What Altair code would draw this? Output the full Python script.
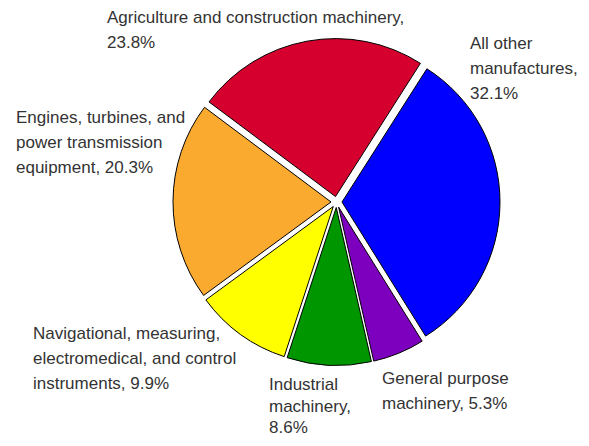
import math
import altair as alt
import pandas as pd

# ---- data -------------------------------------------------------------
categories = [
    "All other manufactures",
    "General purpose machinery",
    "Industrial machinery",
    "Navigational, measuring, electromedical, and control instruments",
    "Engines, turbines, and power transmission equipment",
    "Agriculture and construction machinery",
]
shares = [32.1, 5.3, 8.6, 9.9, 20.3, 23.8]
label_text = [
    "All other\nmanufactures,\n32.1%",
    "General purpose\nmachinery, 5.3%",
    "Industrial\nmachinery,\n8.6%",
    "Navigational, measuring,\nelectromedical, and control\ninstruments, 9.9%",
    "Engines, turbines, and\npower transmission\nequipment, 20.3%",
    "Agriculture and construction machinery,\n23.8%",
]

# ---- styling / layout (kept apart from the data) ------------------------
colors = ["#0000FF", "#7D00BF", "#009600", "#FFFF00", "#FBAA30", "#D6002F"]
label_anchor = [  # (x, first-line baseline, line height) in pixels
    (462, 41, 25),
    (374, 376, 25),
    (261, 382, 21.5),
    (25, 331, 25),
    (8, 115, 25),
    (99, 15, 25),
]
W, H = 573, 430
CX, CY = 328.5, 194.0
R = 158
EXPLODE = 5.5
START = math.radians(32.5)

df = pd.DataFrame({
    "category": categories,
    "share": shares,
    "order": list(range(len(categories))),
})
lab = pd.DataFrame({
    "category": categories,
    "text": label_text,
    "lx": [p[0] for p in label_anchor],
    "ly": [p[1] for p in label_anchor],
    "lh": [p[2] for p in label_anchor],
})

pie = (
    alt.Chart(df)
    .transform_joinaggregate(total="sum(share)")
    .transform_window(cum="sum(share)", sort=[alt.SortField("order")], frame=[None, 0])
    .transform_calculate(
        mid=f"{START} + 2*PI*(datum.cum - datum.share/2)/datum.total",
    )
    .transform_calculate(
        cx=f"{CX} + {EXPLODE}*sin(datum.mid)",
        cy=f"{CY} - {EXPLODE}*cos(datum.mid)",
    )
    .mark_arc(outerRadius=R, stroke="black", strokeWidth=1)
    .encode(
        theta=alt.Theta("share:Q", stack=True,
                        scale=alt.Scale(range=[START, START + 2 * math.pi])),
        order=alt.Order("order:Q"),
        color=alt.Color("category:N",
                        scale=alt.Scale(domain=categories, range=colors),
                        legend=None),
        x=alt.X("cx:Q", scale=None),
        y=alt.Y("cy:Q", scale=None),
    )
)

def label_layer(sub):
    return (
        alt.Chart(sub)
        .mark_text(
            align="left",
            baseline="alphabetic",
            lineBreak="\n",
            lineHeight=float(sub["lh"].iloc[0]),
            font="Liberation Sans",
            fontSize=17,
            color="#333333",
        )
        .encode(
            x=alt.X("lx:Q", scale=None),
            y=alt.Y("ly:Q", scale=None),
            text="text:N",
        )
    )

labels_normal = label_layer(lab[lab["lh"] == 25])
labels_tight = label_layer(lab[lab["lh"] != 25])

chart = (
    alt.layer(pie, labels_normal, labels_tight)
    .properties(width=W, height=H, padding=0, background="white",
                autosize=alt.AutoSizeParams(type="none"))
    .configure_view(stroke=None)
)

chart.save("out.html", embed_options={"renderer": "svg", "actions": False})
